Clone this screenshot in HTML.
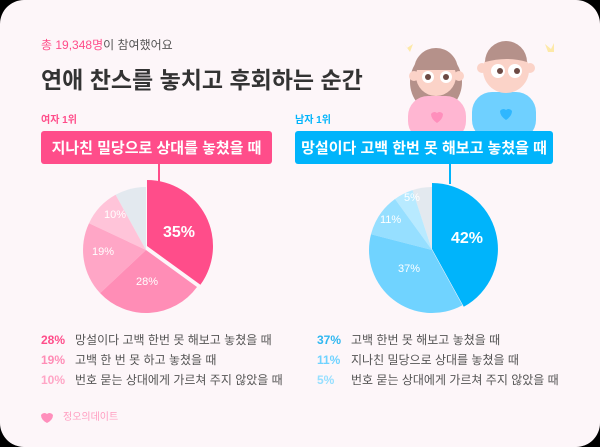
<!DOCTYPE html>
<html><head><meta charset="utf-8"><style>
body{margin:0;width:600px;height:447px;background:#000;overflow:hidden;font-family:"Liberation Sans","Noto Sans CJK KR",sans-serif}
.card{position:absolute;left:0;top:0;width:600px;height:447px;background:#fdf6f9;border-radius:24px;overflow:hidden}
.t{position:absolute;white-space:nowrap}
</style></head><body><div class="card">
<svg width="600" height="447" style="position:absolute;left:0;top:0">
<path d="M403 42 l4 6 l6 -4 l-3 8 z" fill="#fde9a8"/>
<path d="M548 52 l-3 -8 l6 5 l3 -6 l0 9 z" fill="#fde9a8"/>
<ellipse cx="436" cy="82" rx="26" ry="30" fill="#b5918a"/>
<rect x="408" y="96" width="58" height="45" rx="20" fill="#ffb6d2"/>
<circle cx="436" cy="76" r="20" fill="#fbd3c8"/>
<circle cx="414" cy="76" r="5" fill="#fbd3c8"/><circle cx="459" cy="76" r="5" fill="#fbd3c8"/>
<path d="M414 70 a22 22 0 0 1 44 0 z" fill="#b5918a"/>
<circle cx="428" cy="77" r="6" fill="#fff"/><circle cx="446" cy="77" r="6" fill="#fff"/>
<circle cx="428" cy="77" r="3" fill="#6d4a44"/><circle cx="446" cy="77" r="3" fill="#6d4a44"/>
<path d="M431 114 a4 4 0 0 1 6 -1 a4 4 0 0 1 6 1 q0 5 -6 9 q-6 -4 -6 -9z" fill="#ff8fbc"/>
<rect x="472" y="92" width="64" height="48" rx="20" fill="#6fd0ff"/>
<circle cx="506" cy="70" r="23" fill="#fbd3c8"/>
<circle cx="482" cy="68" r="5" fill="#fbd3c8"/><circle cx="530" cy="68" r="5" fill="#fbd3c8"/>
<path d="M485 62 a21 21 0 0 1 42 0 q-20 -6 -42 0z" fill="#b5918a"/>
<circle cx="498" cy="71" r="7" fill="#fff"/><circle cx="515" cy="71" r="7" fill="#fff"/>
<circle cx="500" cy="71" r="3" fill="#6d4a44"/><circle cx="517" cy="71" r="3" fill="#6d4a44"/>
<path d="M500 111 a4 4 0 0 1 6 -1 a4 4 0 0 1 6 1 q0 5 -6 9 q-6 -4 -6 -9z" fill="#2fb7ff"/>
<rect x="41" y="131" width="231" height="33" rx="3" fill="#ff4d8a"/>
<rect x="295" y="131" width="258" height="33" rx="3" fill="#00b4fb"/>
<line x1="159" y1="164" x2="159" y2="184" stroke="#ff4d8a" stroke-width="2"/>
<line x1="450" y1="164" x2="450" y2="184" stroke="#00b4fb" stroke-width="2"/>
<path d="M146 250 L115.6 194.8 A63 63 0 0 1 146 187 Z" fill="#e3e9ef"/>
<path d="M146 250 L89 223.2 A63 63 0 0 1 115.6 194.8 Z" fill="#ffc4d9"/>
<path d="M146 250 L100.1 293.1 A63 63 0 0 1 89 223.2 Z" fill="#ffa6c6"/>
<path d="M146 250 L197 287 A63 63 0 0 1 100.1 293.1 Z" fill="#ff8db6"/>
<path d="M147 246 L147 180 A66 66 0 0 1 200.4 284.8 Z" fill="#ff4d8a"/>
<path d="M432 250 L412.5 190.1 A63 63 0 0 1 432 187 Z" fill="#e3e9ef"/>
<path d="M432 250 L395 199 A63 63 0 0 1 412.5 190.1 Z" fill="#b8eaff"/>
<path d="M432 250 L371 234.3 A63 63 0 0 1 395 199 Z" fill="#96dfff"/>
<path d="M432 250 L462.4 305.2 A63 63 0 0 1 371 234.3 Z" fill="#70d3ff"/>
<path d="M432 249 L432 183 A66 66 0 0 1 463.8 306.8 Z" fill="#00b4fb"/>
<path d="M41 415 a4 4 0 0 1 6 -1 a4 4 0 0 1 6 1 q0 5 -6 8 q-6 -3 -6 -8z" fill="#ff8fbc"/>
</svg>
<div class="t" style="left:41px;top:36px;font-size:12px;color:#555"><span style="color:#ff4d8a">총 19,348명</span>이 참여했어요</div>
<div class="t" style="left:41px;top:61px;font-size:23px;font-weight:bold;color:#333">연애 찬스를 놓치고 후회하는 순간</div>
<div class="t" style="left:41px;top:111px;font-size:10px;font-weight:bold;color:#ff4d8a">여자 1위</div>
<div class="t" style="left:295px;top:111px;font-size:10px;font-weight:bold;color:#00b4fb">남자 1위</div>
<div class="t" style="left:41px;top:137px;width:231px;text-align:center;font-size:15px;font-weight:bold;color:#fff">지나친 밀당으로 상대를 놓쳤을 때</div>
<div class="t" style="left:295px;top:137px;width:258px;text-align:center;font-size:15px;font-weight:bold;color:#fff">망설이다 고백 한번 못 해보고 놓쳤을 때</div>
<div class="t" style="left:163px;top:224px;font-size:16px;font-weight:bold;color:#fff">35%</div>
<div class="t" style="left:136px;top:276px;font-size:11px;color:#fff">28%</div>
<div class="t" style="left:92px;top:246px;font-size:11px;color:#fff">19%</div>
<div class="t" style="left:104px;top:209px;font-size:11px;color:#fff">10%</div>
<div class="t" style="left:451px;top:230px;font-size:16px;font-weight:bold;color:#fff">42%</div>
<div class="t" style="left:398px;top:263px;font-size:11px;color:#fff">37%</div>
<div class="t" style="left:380px;top:214px;font-size:11px;color:#fff">11%</div>
<div class="t" style="left:404px;top:192px;font-size:11px;color:#fff">5%</div>
<div class="t" style="left:41px;top:330px;font-size:12px;line-height:20px;color:#555">
<div><b style="color:#ff4d8a;display:inline-block;width:34px">28%</b>망설이다 고백 한번 못 해보고 놓쳤을 때</div>
<div><b style="color:#ff8db6;display:inline-block;width:34px">19%</b>고백 한 번 못 하고 놓쳤을 때</div>
<div><b style="color:#ffa6c6;display:inline-block;width:34px">10%</b>번호 묻는 상대에게 가르쳐 주지 않았을 때</div>
</div>
<div class="t" style="left:317px;top:330px;font-size:12px;line-height:20px;color:#555">
<div><b style="color:#2fb7f0;display:inline-block;width:34px">37%</b>고백 한번 못 해보고 놓쳤을 때</div>
<div><b style="color:#70d3ff;display:inline-block;width:34px">11%</b>지나친 밀당으로 상대를 놓쳤을 때</div>
<div><b style="color:#96dfff;display:inline-block;width:34px">5%</b>번호 묻는 상대에게 가르쳐 주지 않았을 때</div>
</div>
<div class="t" style="left:63px;top:408px;font-size:10px;color:#ff9dc0">정오의데이트</div>
</div></body></html>
